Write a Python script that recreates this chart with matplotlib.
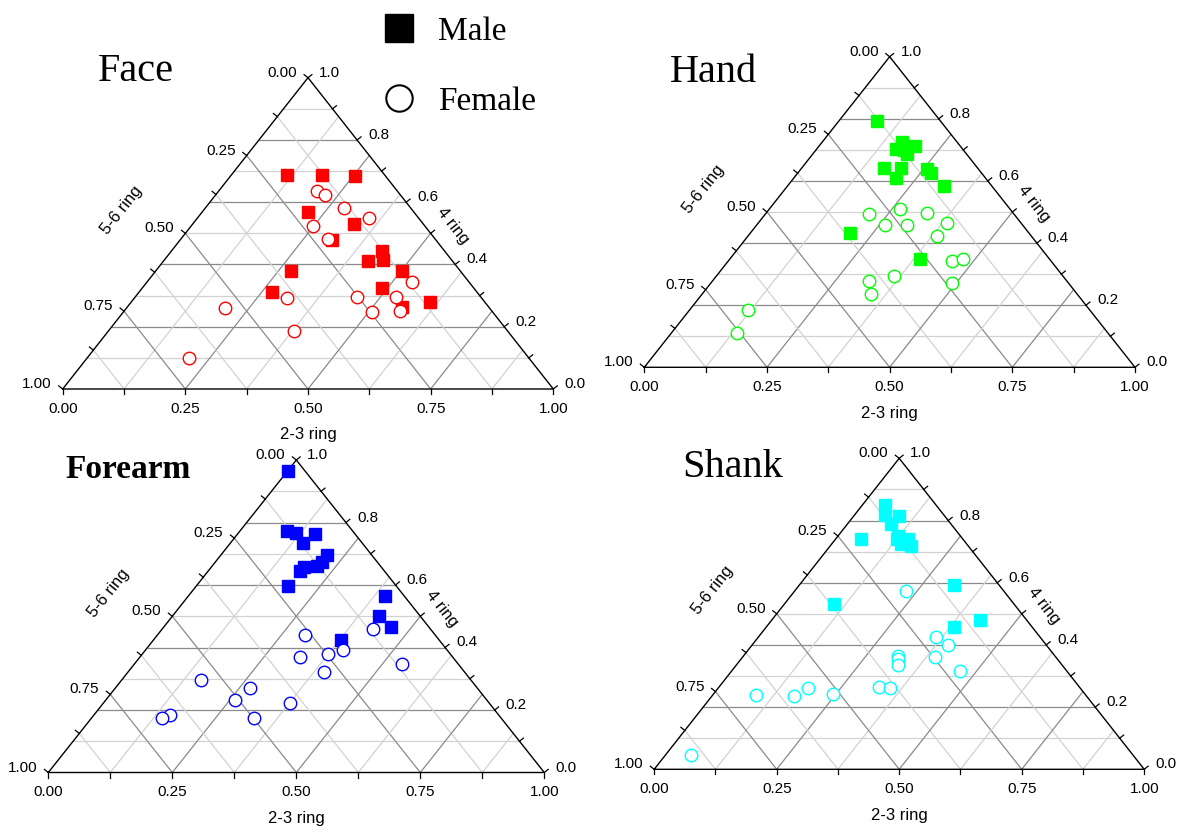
import numpy as np
import matplotlib.pyplot as plt
from matplotlib.lines import Line2D

plt.rcParams['font.family'] = ['Liberation Sans', 'DejaVu Sans']

FIG_W, FIG_H = 1182, 833

# compositions as (2-3 ring, 4 ring, 5-6 ring)
face_male = [
    (0.115, 0.686, 0.199), (0.185, 0.688, 0.127), (0.253, 0.685, 0.062),
    (0.216, 0.567, 0.217), (0.328, 0.530, 0.142), (0.309, 0.479, 0.212),
    (0.430, 0.443, 0.127), (0.445, 0.415, 0.140), (0.417, 0.410, 0.173),
    (0.276, 0.380, 0.344), (0.502, 0.379, 0.119), (0.272, 0.310, 0.418),
    (0.488, 0.326, 0.186), (0.609, 0.278, 0.113), (0.561, 0.263, 0.176),
]
face_female = [
    (0.200, 0.635, 0.165), (0.222, 0.624, 0.154), (0.281, 0.583, 0.136),
    (0.349, 0.550, 0.101), (0.248, 0.523, 0.229), (0.299, 0.483, 0.218),
    (0.540, 0.343, 0.117), (0.312, 0.292, 0.396), (0.452, 0.296, 0.252),
    (0.532, 0.294, 0.174), (0.202, 0.259, 0.539), (0.562, 0.252, 0.186),
    (0.507, 0.246, 0.247), (0.378, 0.186, 0.436), (0.209, 0.098, 0.693),
]
hand_male = [
    (0.078, 0.792, 0.130), (0.162, 0.725, 0.113), (0.195, 0.714, 0.091),
    (0.162, 0.702, 0.136), (0.179, 0.699, 0.122), (0.193, 0.686, 0.121),
    (0.167, 0.643, 0.190), (0.202, 0.642, 0.156), (0.257, 0.638, 0.105),
    (0.271, 0.627, 0.102), (0.207, 0.611, 0.182), (0.319, 0.583, 0.098),
    (0.203, 0.431, 0.366), (0.388, 0.348, 0.264),
]
hand_female = [
    (0.211, 0.494, 0.295), (0.267, 0.509, 0.224), (0.328, 0.496, 0.176),
    (0.261, 0.459, 0.280), (0.306, 0.457, 0.237), (0.385, 0.465, 0.150),
    (0.385, 0.423, 0.192), (0.456, 0.343, 0.201), (0.475, 0.348, 0.177),
    (0.361, 0.295, 0.344), (0.319, 0.277, 0.404), (0.491, 0.273, 0.236),
    (0.345, 0.235, 0.420), (0.119, 0.185, 0.696), (0.133, 0.110, 0.757),
]
forearm_male = [
    (0.000, 0.966, 0.034), (0.095, 0.773, 0.132), (0.116, 0.765, 0.119),
    (0.155, 0.764, 0.081), (0.147, 0.733, 0.120), (0.214, 0.695, 0.091),
    (0.214, 0.674, 0.112), (0.186, 0.658, 0.156), (0.211, 0.661, 0.128),
    (0.185, 0.644, 0.171), (0.186, 0.596, 0.218), (0.396, 0.564, 0.040),
    (0.416, 0.502, 0.082), (0.457, 0.466, 0.077), (0.379, 0.423, 0.198),
]
forearm_female = [
    (0.298, 0.441, 0.261), (0.425, 0.460, 0.115), (0.374, 0.379, 0.247),
    (0.397, 0.393, 0.210), (0.322, 0.369, 0.309), (0.395, 0.323, 0.282),
    (0.540, 0.346, 0.114), (0.160, 0.295, 0.545), (0.272, 0.271, 0.457),
    (0.261, 0.231, 0.508), (0.376, 0.224, 0.400), (0.153, 0.183, 0.664),
    (0.141, 0.175, 0.684), (0.327, 0.175, 0.498),
]
shank_male = [
    (0.046, 0.850, 0.104), (0.061, 0.818, 0.121), (0.092, 0.815, 0.093),
    (0.089, 0.789, 0.122), (0.052, 0.740, 0.208), (0.122, 0.750, 0.128),
    (0.125, 0.741, 0.134), (0.148, 0.741, 0.111), (0.143, 0.723, 0.134),
    (0.166, 0.718, 0.116), (0.315, 0.594, 0.091), (0.100, 0.533, 0.367),
    (0.425, 0.481, 0.094), (0.384, 0.457, 0.159),
]
shank_female = [
    (0.228, 0.573, 0.199), (0.363, 0.424, 0.213), (0.399, 0.401, 0.200),
    (0.317, 0.363, 0.320), (0.321, 0.354, 0.325), (0.330, 0.335, 0.335),
    (0.392, 0.361, 0.247), (0.467, 0.316, 0.217), (0.327, 0.265, 0.408),
    (0.352, 0.260, 0.388), (0.182, 0.262, 0.556), (0.167, 0.236, 0.597),
    (0.089, 0.238, 0.673), (0.243, 0.243, 0.514), (0.052, 0.047, 0.901),
]

bottom_ticks = [0, 0.25, 0.5, 0.75, 1.0]
left_ticks = [0, 0.25, 0.5, 0.75, 1.0]
right_ticks = [0, 0.2, 0.4, 0.6, 0.8, 1.0]

MAJOR = '#8a8a8a'
MINOR = '#d2d2d2'


def to_xy(points):
    p = np.asarray(points, float)
    p = p / p.sum(axis=1, keepdims=True)
    a, b = p[:, 0], p[:, 1]
    return a + b / 2, b


def draw_ternary(fig, box, color, male, female):
    x0, y0, w, h = box
    ax = fig.add_axes([x0 / FIG_W, 1 - y0 / FIG_H, w / FIG_W, h / FIG_H])
    ax.set_xlim(0, 1)
    ax.set_ylim(0, 1)
    ax.axis('off')

    def off(u, v, dx, dy):
        # shift a point by a pixel offset
        return u + dx / w, v + dy / h

    # grid
    for k in range(1, 10):
        v = k / 10
        ax.plot([v / 2, 1 - v / 2], [v, v], color=MAJOR if k % 2 == 0 else MINOR,
                lw=0.9, zorder=1)
    for k in range(1, 8):
        t = k / 8
        c = MAJOR if k % 2 == 0 else MINOR
        ax.plot([t, (1 + t) / 2], [0, 1 - t], color=c, lw=0.9, zorder=1)
        ax.plot([(1 - t) / 2, 1 - t], [1 - t, 0], color=c, lw=0.9, zorder=1)
    ax.plot([0, 1, 0.5, 0], [0, 0, 1, 0], color='black', lw=1.0, zorder=2,
            clip_on=False)

    # outward normals in pixel space
    n = np.hypot(h, w / 2)
    nl = (-h / n, (w / 2) / n)
    nr = (h / n, (w / 2) / n)
    tl = 5
    kw = dict(color='black', lw=0.9, clip_on=False, zorder=2)
    for k in range(9):
        t = k / 8
        ax.plot([t, t], [0, -tl / h], **kw)
        u, v = (1 - t) / 2, 1 - t
        ax.plot([u, u + tl * nl[0] / w], [v, v + tl * nl[1] / h], **kw)
    for k in range(11):
        y = k / 10
        u, v = 1 - y / 2, y
        ax.plot([u, u + tl * nr[0] / w], [v, v + tl * nr[1] / h], **kw)

    fs = 11
    for t in bottom_ticks:
        ax.text(*off(t, 0, 0, -20), f'{t:.2f}', ha='center', va='center', fontsize=fs)
    for z in left_ticks:
        ax.text(*off((1 - z) / 2, 1 - z, -11, 5), f'{z:.2f}', ha='right', va='center',
                fontsize=fs)
    for y in right_ticks:
        ax.text(*off(1 - y / 2, y, 11, 5), f'{y:.1f}', ha='left', va='center', fontsize=fs)

    ang = np.degrees(np.arctan2(h, w / 2))
    ax.text(*off(0.5, 0, 0, -46), '2-3 ring', ha='center', va='center', fontsize=12)
    ax.text(*off(0.575 / 2, 0.575, -82, 0), '5-6 ring', ha='center', va='center',
            fontsize=12, rotation=ang, rotation_mode='anchor')
    ax.text(*off(1 - 0.525 / 2, 0.525, 28, 0), '4 ring', ha='center', va='center',
            fontsize=12, rotation=-ang, rotation_mode='anchor')

    mu, mv = to_xy(male)
    ax.plot(mu, mv, ls='none', marker='s', ms=8, color=color, zorder=3, clip_on=False)
    fu, fv = to_xy(female)
    ax.plot(fu, fv, ls='none', marker='o', ms=9, mfc='white', mec=color, mew=1.0,
            zorder=4, clip_on=False)
    return ax


fig = plt.figure(figsize=(FIG_W / 100, FIG_H / 100), dpi=100)

draw_ternary(fig, (62.7, 389.0, 490.6, 311.3), '#ff0000', face_male, face_female)
draw_ternary(fig, (644.3, 367.3, 490.7, 310.6), '#00ff00', hand_male, hand_female)
draw_ternary(fig, (48.3, 772.5, 496.0, 312.5), '#0000ff', forearm_male, forearm_female)
draw_ternary(fig, (654.2, 769.3, 490.0, 311.0), '#00ffff', shank_male, shank_female)

serif = ['Liberation Serif', 'DejaVu Serif']
fig.text(98 / FIG_W, 1 - 81 / FIG_H, 'Face', family=serif, fontsize=29, va='baseline')
fig.text(670 / FIG_W, 1 - 82 / FIG_H, 'Hand', family=serif, fontsize=29, va='baseline')
fig.text(65 / FIG_W, 1 - 478 / FIG_H, 'Forearm', family=serif, fontsize=24,
         weight='bold', va='baseline')
fig.text(682 / FIG_W, 1 - 477 / FIG_H, 'Shank', family=serif, fontsize=29, va='baseline')

handles = [
    Line2D([], [], ls='none', marker='s', ms=19.5, color='black'),
    Line2D([], [], ls='none', marker='o', ms=19, mfc='white', mec='black', mew=1.5),
]
fig.legend(handles, ['Male', 'Female'], loc='upper left',
           bbox_to_anchor=(382 / FIG_W, 1 - 16 / FIG_H), frameon=False,
           prop={'family': serif, 'size': 24}, handlelength=1.0, handletextpad=0.67,
           labelspacing=1.19, borderpad=0, borderaxespad=0)

fig.savefig('out.png', dpi=100)
